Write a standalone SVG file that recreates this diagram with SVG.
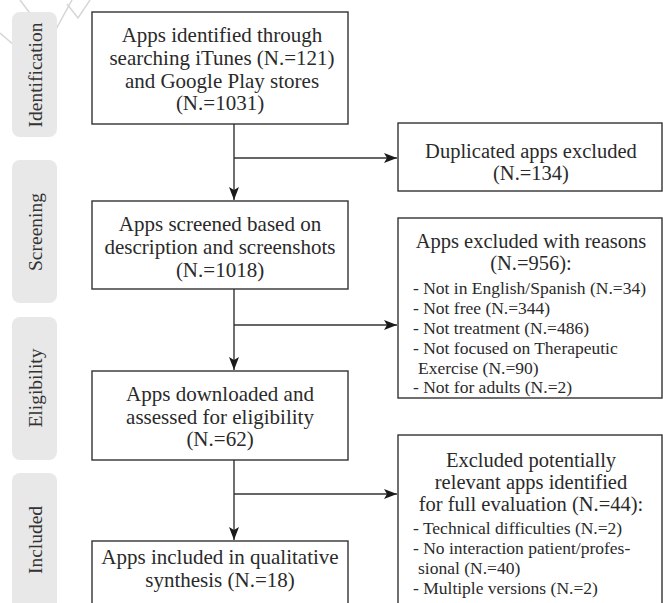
<svg xmlns="http://www.w3.org/2000/svg" width="663" height="603" viewBox="0 0 663 603">
<defs>
<marker id="arr" markerWidth="14" markerHeight="10" refX="13" refY="5" orient="auto" markerUnits="userSpaceOnUse">
<path d="M0,0 L13,5 L0,10 L3,5 Z" fill="#1a1a1a"/>
</marker>
<style>
.tab{fill:#e8e8e8;}
.tabt{font-family:"Liberation Serif","Times New Roman",serif;font-size:19.5px;fill:#333;text-anchor:middle;}
.box{fill:#fff;stroke:#333;stroke-width:1.4;}
.t{font-family:"Liberation Serif","Times New Roman",serif;font-size:21px;fill:#2a2a2a;text-anchor:middle;}
.h{font-family:"Liberation Serif","Times New Roman",serif;font-size:20.5px;fill:#2a2a2a;text-anchor:middle;}
.l{font-family:"Liberation Serif","Times New Roman",serif;font-size:17.5px;fill:#2a2a2a;}
.c{fill:none;stroke:#333;stroke-width:1.4;}
</style>
</defs>
<rect width="663" height="603" fill="#fff"/>
<g id="watermark" fill="none" stroke="#d6d6d6" stroke-width="1.5">
<polyline points="20,0 50,40 72,0"/>
<polyline points="67,4 78,18 90,0"/>
<polyline points="0,33 15,46"/>
</g>
<g id="tab-identification"><rect class="tab" x="12" y="12" width="45" height="125" rx="8"/><text class="tabt" transform="translate(42,75) rotate(-90)">Identification</text></g>
<g id="tab-screening"><rect class="tab" x="12" y="160" width="45" height="143" rx="8"/><text class="tabt" transform="translate(42,232) rotate(-90)">Screening</text></g>
<g id="tab-eligibility"><rect class="tab" x="12" y="317" width="45" height="143" rx="8"/><text class="tabt" transform="translate(42,388) rotate(-90)">Eligibility</text></g>
<g id="tab-included"><rect class="tab" x="12" y="473" width="45" height="150" rx="8"/><text class="tabt" transform="translate(42,540) rotate(-90)">Included</text></g>

<g id="connectors">
<line class="c" x1="234" y1="124" x2="234" y2="200" marker-end="url(#arr)"/>
<line class="c" x1="234" y1="158" x2="397" y2="158" marker-end="url(#arr)"/>
<line class="c" x1="234" y1="289" x2="234" y2="370" marker-end="url(#arr)"/>
<line class="c" x1="234" y1="325" x2="397" y2="325" marker-end="url(#arr)"/>
<line class="c" x1="234" y1="459" x2="234" y2="540" marker-end="url(#arr)"/>
<line class="c" x1="234" y1="494" x2="397" y2="494" marker-end="url(#arr)"/>
</g>

<g id="n-identified">
<rect class="box" x="92" y="12" width="256" height="112"/>
<text class="t" x="222" y="42">Apps identified through</text>
<text class="t" x="222" y="65">searching iTunes (N.=121)</text>
<text class="t" x="222" y="87.5">and Google Play stores</text>
<text class="t" x="220" y="110">(N.=1031)</text>
</g>
<g id="n-duplicated">
<rect class="box" x="398" y="123" width="264" height="68"/>
<text class="h" x="531" y="158">Duplicated apps excluded</text>
<text class="h" x="531" y="180">(N.=134)</text>
</g>
<g id="n-screened">
<rect class="box" x="92" y="201" width="256" height="88"/>
<text class="t" x="220" y="231">Apps screened based on</text>
<text class="t" x="220" y="254">description and screenshots</text>
<text class="t" x="220" y="276.5">(N.=1018)</text>
</g>
<g id="n-excluded-reasons">
<rect class="box" x="398" y="218" width="264" height="180"/>
<text class="h" x="531" y="248">Apps excluded with reasons</text>
<text class="h" x="531" y="270">(N.=956):</text>
<text class="l" x="413" y="294">- Not in English/Spanish (N.=34)</text>
<text class="l" x="413" y="314">- Not free (N.=344)</text>
<text class="l" x="413" y="334">- Not treatment (N.=486)</text>
<text class="l" x="413" y="354">- Not focused on Therapeutic</text>
<text class="l" x="418" y="373.5">Exercise (N.=90)</text>
<text class="l" x="413" y="393">- Not for adults (N.=2)</text>
</g>
<g id="n-downloaded">
<rect class="box" x="92" y="371" width="256" height="89"/>
<text class="t" x="220" y="401">Apps downloaded and</text>
<text class="t" x="220" y="423.5">assessed for eligibility</text>
<text class="t" x="220" y="446">(N.=62)</text>
</g>
<g id="n-excluded-relevant">
<rect class="box" x="398" y="435" width="264" height="190"/>
<text class="h" x="531" y="467">Excluded potentially</text>
<text class="h" x="531" y="489">relevant apps identified</text>
<text class="h" x="531" y="511">for full evaluation (N.=44):</text>
<text class="l" x="413" y="534">- Technical difficulties (N.=2)</text>
<text class="l" x="413" y="554">- No interaction patient/profes-</text>
<text class="l" x="418" y="574">sional (N.=40)</text>
<text class="l" x="413" y="594">- Multiple versions (N.=2)</text>
</g>
<g id="n-included">
<rect class="box" x="92" y="541" width="256" height="90"/>
<text class="t" x="220" y="564">Apps included in qualitative</text>
<text class="t" x="220" y="587">synthesis (N.=18)</text>
</g>
</svg>
